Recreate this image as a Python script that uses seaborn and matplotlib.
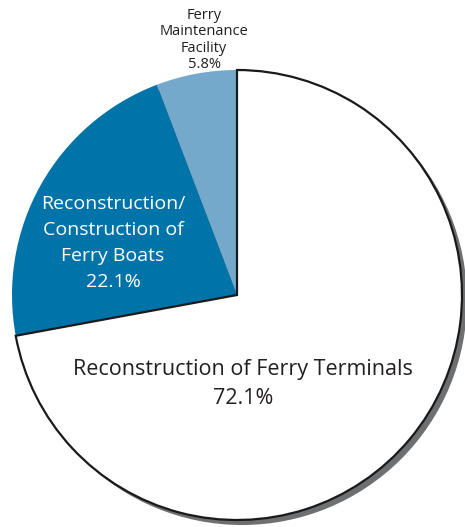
import matplotlib
matplotlib.use("Agg")
import matplotlib.pyplot as plt
import seaborn as sns
from matplotlib.patches import Circle

sns.set_theme(style="white")
plt.rcParams['font.family'] = ['Open Sans', 'DejaVu Sans']

categories = ["Ferry\nMaintenance\nFacility", "Reconstruction/\nConstruction of\nFerry Boats",
              "Reconstruction of Ferry Terminals"]
values = [5.8, 22.1, 72.1]
colors = ["#74a9cc", "#0073a9", "#ffffff"]

W, H = 465, 527
fig = plt.figure(figsize=(W / 100, H / 100), dpi=100)
ax = fig.add_axes([0, 0, 1, 1])

cx, cy, r = 237, H - 295, 225

# drop shadow
ax.add_patch(Circle((cx + 5, cy - 5), r, facecolor="#6e6f71", edgecolor="none", zorder=0))

wedges, _ = ax.pie(values, colors=colors, startangle=90, counterclock=True,
                   center=(cx, cy), radius=r, frame=True,
                   wedgeprops=dict(linewidth=0))
for w in wedges:
    w.set_zorder(1)
wedges[2].set_edgecolor("#1a1a1a")
wedges[2].set_linewidth(1.6)
wedges[2].set_zorder(2)

ax.text(204, H - 40, f"{categories[0]}\n{values[0]}%", ha="center", va="center",
        fontsize=10.5, color="#231f20", linespacing=1.12, zorder=5)
ax.text(113, H - 243, f"{categories[1]}\n{values[1]}%", ha="center", va="center",
        fontsize=14, color="white", linespacing=1.55, zorder=5)
ax.text(243, H - 384, f"{categories[2]}\n{values[2]}%", ha="center", va="center",
        fontsize=15.5, color="#231f20", linespacing=1.5, zorder=5)

ax.set_xlim(0, W)
ax.set_ylim(0, H)
ax.set_aspect("auto")
ax.axis("off")
fig.savefig("out.png", dpi=100, facecolor="white")
